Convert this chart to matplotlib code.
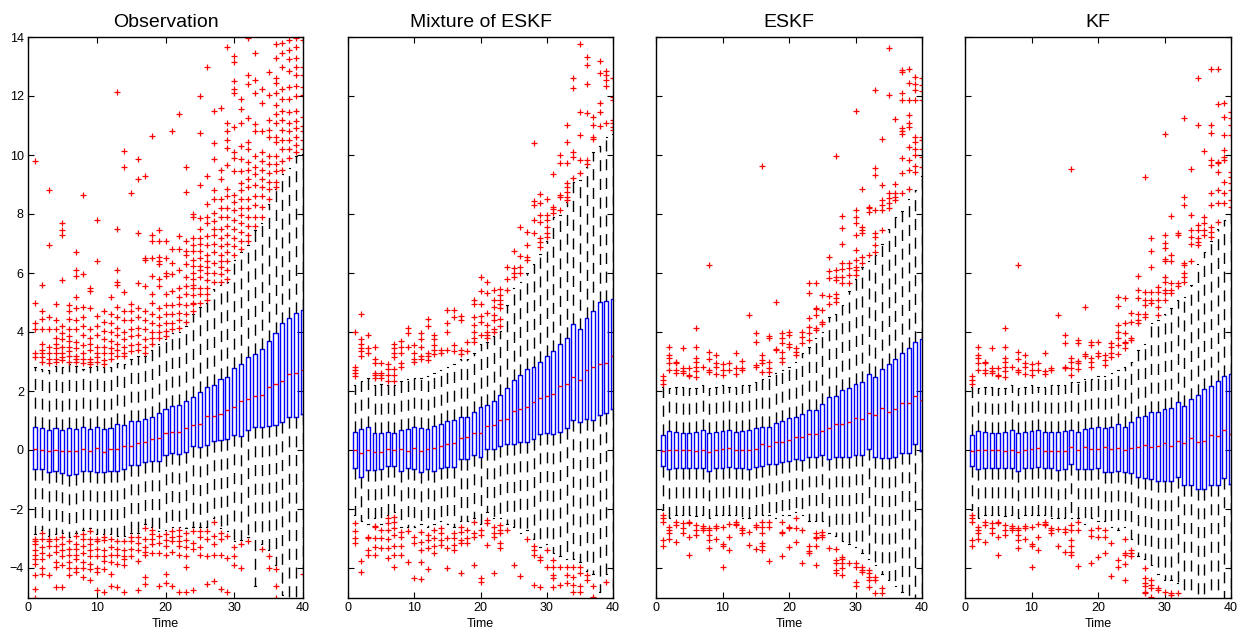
import numpy as np
import matplotlib
matplotlib.use('agg')
import matplotlib.pyplot as plt

plt.rcParams['font.family'] = ['Liberation Sans', 'DejaVu Sans']

time = list(range(1, 41))
titles = ['Observation', 'Mixture of ESKF', 'ESKF', 'KF']

# ---------------- Observation ----------------
obs_q1 = [-0.65,-0.65,-0.73,-0.71,-0.77,-0.85,-0.80,-0.71,-0.71,-0.73,-0.76,-0.71,-0.71,-0.65,-0.52,-0.52,-0.42,-0.38,-0.36,-0.18,
          -0.11,-0.15,-0.06,0.14,0.11,0.18,0.30,0.34,0.37,0.50,0.49,0.67,0.79,0.79,0.81,0.86,0.95,1.11,1.13,1.22]
obs_med = [0.05,0.00,-0.04,0.00,-0.04,-0.04,-0.03,0.05,-0.02,0.07,-0.06,0.03,0.03,0.12,0.15,0.23,0.27,0.36,0.39,0.56,
           0.62,0.62,0.73,0.85,0.87,1.14,1.14,1.23,1.36,1.47,1.66,1.74,1.82,1.85,2.12,2.24,2.34,2.58,2.60,2.71]
obs_q3 = [0.79,0.76,0.68,0.76,0.68,0.73,0.71,0.77,0.70,0.78,0.71,0.76,0.87,0.85,1.00,0.99,1.06,1.13,1.25,1.40,
          1.50,1.51,1.66,1.81,1.97,2.12,2.19,2.39,2.46,2.77,2.93,3.14,3.24,3.41,3.70,3.95,4.32,4.46,4.66,4.74]
obs_lo = [-2.85,-2.70,-2.90,-2.85,-2.80,-2.95,-2.80,-2.70,-2.65,-2.85,-2.85,-2.85,-2.90,-2.90,-2.80,-2.80,-2.50,-2.60,-2.75,-2.70,
          -2.60,-2.60,-2.65,-2.60,-2.60,-2.60,-2.30,-2.65,-2.75,-3.10,-3.05,-2.95,-4.60,-3.20,-3.40,-3.90,-4.90,-5.20,-5.30,-4.00]
obs_hi = [2.80,2.75,2.70,2.85,2.80,2.90,2.85,2.75,2.80,2.85,2.80,2.80,2.95,2.90,3.10,3.20,3.20,3.40,3.60,3.75,
          3.95,4.00,4.20,4.60,4.85,5.00,5.45,5.60,5.70,6.45,6.70,6.95,7.45,7.70,8.35,8.85,9.35,9.55,9.95,10.05]
obs_out = [
    [9.8,5.0,4.3,4.1,3.3,3.15,-3.0,-3.1,-3.2,-3.4,-3.55,-3.7,-3.85,-4.25,-4.7,-5.0],
    [5.6,4.7,4.45,4.1,3.6,3.4,3.3,3.15,3.0,-2.8,-3.0,-3.3,-3.5,-3.7,-4.0,-4.2],
    [8.8,6.95,4.5,4.1,3.5,3.3,3.1,2.95,-3.0,-3.1,-3.25,-3.55,-4.25],
    [4.95,4.4,4.1,3.8,3.6,3.45,3.3,3.1,3.0,-3.0,-3.25,-3.45,-3.8,-3.95,-4.65],
    [7.7,7.45,7.3,5.75,4.2,3.95,3.75,3.5,3.3,3.15,3.05,-2.95,-3.2,-3.4,-3.6,-3.9,-4.65],
    [4.9,4.7,4.45,4.1,3.85,3.7,3.5,3.35,3.2,3.0,-3.1,-3.35,-3.55,-3.8,-4.0,-4.25],
    [6.7,6.1,5.9,5.2,4.8,4.4,4.1,3.65,3.45,3.2,3.1,3.0,-2.9,-3.2,-3.35,-3.55,-3.7,-4.0,-4.15],
    [8.65,5.95,4.85,4.5,4.2,3.9,3.55,3.3,3.1,2.95,-2.85,-3.0,-3.25,-3.5,-3.8,-4.0,-4.3],
    [5.5,5.4,4.8,4.1,3.8,3.6,3.4,3.1,3.0,2.9,-2.75,-3.0,-3.2,-3.4,-3.6,-3.85,-4.05,-4.4],
    [7.8,6.4,4.55,4.2,3.9,3.5,3.3,3.15,3.0,-3.0,-3.1,-3.35,-3.6,-4.0,-4.15,-4.75],
    [4.7,4.35,4.05,3.75,3.5,3.3,3.05,2.9,-2.95,-3.05,-3.4,-3.6,-3.75,-4.05,-4.8],
    [5.2,4.6,4.3,4.0,3.7,3.45,3.3,3.1,-3.0,-3.3,-3.55,-3.8,-4.2,-4.6],
    [12.15,7.5,6.1,5.7,5.6,4.85,4.5,4.15,3.9,3.6,3.4,3.2,-3.1,-3.35,-3.55,-3.85,-4.65],
    [10.15,9.6,5.35,4.7,4.4,4.0,3.75,3.5,3.3,3.2,-3.1,-3.4,-3.6,-3.7,-3.9,-4.8],
    [8.7,4.95,4.7,4.4,4.1,3.85,3.55,3.35,-2.95,-3.1,-3.35,-3.6],
    [9.85,9.2,7.35,5.65,4.8,4.5,4.15,3.9,3.6,3.4,-2.95,-3.15,-3.4,-3.75,-4.75],
    [9.3,6.5,6.45,5.55,4.7,4.4,4.1,3.75,3.5,3.3,-2.65,-3.0,-3.3,-3.45,-3.55,-4.3,-4.55],
    [10.65,7.3,7.1,6.5,5.9,5.3,5.0,4.6,4.3,4.0,3.8,3.6,-2.7,-2.85,-3.0,-3.2,-3.5],
    [7.45,7.1,6.55,6.4,6.3,5.8,5.55,4.8,4.5,4.25,4.0,3.8,-2.9,-3.15,-3.5,-4.6],
    [7.1,6.5,6.0,5.9,5.3,4.9,4.6,4.3,4.05,3.85,-2.85,-3.05,-3.25,-3.55,-4.2,-4.5],
    [10.8,6.8,6.35,5.95,5.4,4.9,4.6,4.3,4.1,-2.75,-2.95,-3.1,-3.45,-4.6],
    [11.4,7.25,6.8,6.1,5.5,5.2,4.95,4.65,4.4,4.15,-2.7,-2.9,-3.1,-3.25,-3.55,-4.8],
    [9.6,8.75,7.1,6.75,6.6,6.3,5.85,5.55,5.3,4.9,4.6,4.35,-2.8,-3.05,-3.3,-3.6,-3.95,-4.8],
    [8.0,7.9,7.2,6.95,6.75,6.45,6.25,6.0,5.8,5.6,5.5,5.25,5.0,4.95,4.7,-2.75,-3.15,-3.35,-4.75],
    [12.0,10.75,9.0,7.85,7.5,7.2,7.0,6.75,6.5,6.25,6.1,5.85,5.5,5.3,5.0,-2.75,-2.95,-3.3,-3.55],
    [13.0,9.3,8.35,7.9,7.7,7.25,6.95,6.6,6.4,6.2,6.0,5.75,5.5,5.3,5.1,-2.75,-3.0,-3.6,-4.55],
    [11.5,10.4,9.85,8.8,8.5,8.05,7.75,7.5,7.3,7.0,6.7,6.35,6.0,5.7,-2.45,-2.9,-3.2,-3.55,-4.45],
    [11.6,9.5,9.2,8.5,8.2,7.9,7.5,7.2,6.9,6.6,6.4,6.2,5.95,5.7,-2.8,-3.0,-3.55,-4.7],
    [13.65,11.1,10.8,10.5,10.25,9.65,8.85,8.6,8.2,7.9,7.6,7.3,7.0,6.7,6.4,6.1,5.8,-2.9,-3.65,-4.8],
    [13.35,13.15,12.5,12.25,12.1,10.95,10.1,9.9,9.45,8.65,8.4,8.15,7.8,7.5,7.2,6.9,6.6,-3.3,-3.6,-3.9],
    [11.9,11.55,11.1,10.3,9.85,9.45,9.05,8.8,8.5,8.2,7.95,7.7,7.4,7.1,6.8,-3.2,-4.0],
    [13.95,12.7,12.4,11.25,10.45,10.2,9.75,9.5,9.2,8.9,8.5,8.2,7.9,7.6,7.3,7.1,-3.1],
    [13.45,12.55,12.1,11.05,10.8,9.95,9.6,9.35,9.0,8.6,8.3,7.9,7.6],
    [12.25,11.75,10.8,10.1,9.8,9.5,9.2,8.9,8.6,8.25,7.9,-3.35],
    [12.8,12.05,11.2,10.85,10.6,9.95,9.7,9.4,9.1,8.85,8.5,-3.6,-4.0],
    [13.75,13.3,12.6,12.45,12.1,11.7,11.4,11.1,10.6,10.45,9.95,9.7,9.45,9.1,8.9,-4.05,-4.6,-5.0],
    [13.8,13.45,13.0,12.25,11.9,11.5,11.2,10.85,10.5,10.2,9.8,9.5],
    [13.9,13.55,13.25,12.85,12.3,11.9,11.45,11.1,10.8,10.5,10.2,9.9],
    [13.95,13.65,13.3,13.0,12.7,12.35,12.0,11.5,11.15,10.9,10.6,10.35,10.1],
    [13.9,13.0,12.7,12.3,12.05,11.3,11.0,10.8,10.5,10.2,-4.2],
]

# ---------------- Mixture of ESKF ----------------
mix_q1 = [-0.60,-0.90,-0.69,-0.69,-0.64,-0.54,-0.54,-0.71,-0.62,-0.66,-0.76,-0.66,-0.71,-0.62,-0.56,-0.56,-0.32,-0.32,-0.18,-0.23,
          0.05,0.02,0.14,0.19,0.19,0.28,0.28,0.37,0.53,0.59,0.53,0.60,0.73,1.01,0.95,1.04,1.02,1.17,1.27,1.38]
mix_med = [0.00,-0.10,0.00,-0.06,-0.06,0.03,0.00,0.02,-0.02,0.07,-0.03,0.03,0.07,0.12,0.19,0.25,0.41,0.44,0.59,0.59,
           0.80,0.85,1.01,1.06,1.32,1.40,1.45,1.63,1.76,1.84,1.89,2.17,2.25,2.48,2.38,2.71,2.82,2.91,2.94,3.19]
mix_q3 = [0.60,0.71,0.77,0.56,0.56,0.60,0.58,0.68,0.71,0.79,0.73,0.71,0.81,0.88,0.97,1.02,1.13,1.13,1.29,1.45,
          1.51,1.65,1.88,2.09,2.37,2.53,2.73,2.80,3.00,3.19,3.36,3.59,3.78,4.26,4.09,4.46,4.71,5.02,5.05,5.12]
mix_lo = [-2.20,-2.40,-2.50,-2.30,-2.50,-2.20,-2.10,-2.60,-2.60,-2.60,-2.50,-2.60,-2.50,-2.40,-2.50,-2.60,-2.40,-2.40,-2.30,-2.50,
          -2.10,-2.30,-2.30,-2.50,-2.60,-2.80,-2.70,-3.00,-3.30,-3.20,-3.50,-3.60,-3.70,-3.70,-3.80,-4.10,-4.20,-4.80,-4.20,-5.20]
mix_hi = [2.20,2.35,2.45,2.20,2.25,2.20,2.20,2.35,2.40,2.45,2.45,2.50,2.60,2.70,2.80,2.90,3.10,3.10,3.30,3.60,
          3.65,3.85,4.05,4.90,5.50,5.70,6.00,6.30,6.65,7.10,7.90,7.95,8.40,9.10,9.15,9.60,10.10,10.30,10.60,10.70]
mix_out = [
    [4.0,2.8,2.7,2.6,2.5,-2.48,-2.74,-2.97,-3.14],
    [4.6,3.75,3.6,3.45,3.35,3.2,-3.76,-4.15],
    [3.9,3.45,3.3,-2.96,-2.99,-3.39,-3.56],
    [3.5,3.1,2.95,2.6,2.55,2.45,-2.58,-2.6,-2.97,-3.28,-3.56],
    [2.95,2.6,2.55,2.45,-2.71,-2.99,-3.33],
    [2.9,2.75,2.55,2.35,-2.32,-2.49,-2.71,-3.03,-3.33,-3.67],
    [3.6,3.45,3.3,3.15,2.75,2.55,2.35,-2.26,-2.43,-2.65,-2.88,-3.25,-3.56,-3.95],
    [3.7,3.5,3.3,2.95,2.8,-2.77,-2.94,-3.27,-3.56],
    [4.15,3.95,3.5,-2.75,-3.79],
    [3.55,3.3,3.1,3.0,-2.94,-3.16,-4.33],
    [3.95,3.75,3.5,3.2,3.1,-2.77,-3.11,-3.39,-3.79,-4.38],
    [4.45,4.2,3.3,3.2,3.05,-2.88,-3.05,-3.33,-4.05],
    [3.9,3.75,3.55,3.4,3.25,-2.71,-2.99,-3.27,-3.5],
    [3.4,3.3,-2.65,-2.8,-3.05,-3.22],
    [4.75,4.3,4.0,3.4,-2.99,-3.33,-4.01],
    [4.75,4.5,3.55,3.35,-2.82,-2.99,-3.22,-3.39],
    [4.55,4.4,3.4,3.25,-2.6,-2.77,-3.05,-3.16,-4.16],
    [3.65,3.35,-2.71,-2.99,-3.16],
    [5.08,4.95,4.5,4.25,4.0,3.8,3.65,-2.43,-2.82,-2.94,-3.9],
    [5.85,5.4,4.96,4.55,4.35,3.9,-2.71,-2.88,-4.35,-4.46],
    [5.7,5.31,4.63,4.25,4.0,3.9,3.8,-2.37,-2.49,-3.22],
    [5.42,5.1,4.86,4.58,4.4,4.1,4.0,-2.6,-2.82,-2.94,-4.18],
    [5.45,5.25,5.08,4.95,4.8,4.45,4.2,-2.54,-2.71,-2.82,-3.16,-3.33],
    [6.2,5.78,5.42,-2.71],
    [6.75,6.16,5.99,5.85,-3.9],
    [7.57,6.57,6.21,5.99,-4.27],
    [7.4,6.95,6.55,6.44,-3.02],
    [10.4,8.44,8.31,7.79,7.34,-3.27,-3.39,-3.56,-4.58],
    [8.67,8.36,7.97,7.74,7.17,7.06,6.89,-3.62,-3.73,-4.63],
    [8.5,7.97,7.8,7.57,7.34,7.21,-3.39,-3.95],
    [9.36,8.25,8.16,8.02,-3.73,-3.95,-4.24,-4.35,-4.63],
    [10.0,9.74,8.64,8.59,8.14,-3.95,-4.58],
    [11.02,10.45,9.72,9.06,8.9,8.76,8.59,8.47,-3.95,-4.24,-4.5],
    [12.6,12.26,10.11,9.94,9.21,-3.95,-4.29,-4.58,-4.8],
    [13.75,11.47,10.68,9.83,9.38,-3.95,-4.18,-4.61,-4.8],
    [13.33,13.05,12.41,11.41,9.83,9.69,-4.24,-4.41],
    [11.28,11.02,10.62,10.53,-4.6,-4.97],
    [13.19,12.79,11.77,11.46,10.98],
    [12.86,12.71,12.54,12.34,11.1,-4.46],
    [12.62,11.98,11.86,11.19,11.07,10.96,10.85],
]

# ---------------- ESKF ----------------
eskf_q1 = [-0.54,-0.64,-0.62,-0.62,-0.60,-0.62,-0.62,-0.70,-0.62,-0.60,-0.59,-0.60,-0.62,-0.64,-0.56,-0.53,-0.47,-0.47,-0.40,-0.37,
           -0.32,-0.33,-0.23,-0.23,-0.18,-0.31,-0.23,-0.24,-0.25,-0.18,-0.17,0.02,-0.23,-0.26,-0.28,-0.25,-0.09,-0.09,0.19,-0.02]
eskf_med = [-0.02,0.01,0.01,-0.01,-0.01,-0.02,0.01,-0.08,-0.01,0.03,0.06,-0.01,-0.01,-0.01,0.05,0.19,0.15,0.26,0.27,0.33,
            0.45,0.45,0.53,0.54,0.63,0.75,0.87,0.88,0.94,1.10,1.06,1.24,1.20,1.41,1.30,1.38,1.58,1.60,1.83,1.69]
eskf_q3 = [0.51,0.64,0.61,0.59,0.56,0.62,0.67,0.56,0.62,0.63,0.68,0.60,0.66,0.67,0.73,0.78,0.78,0.93,0.98,1.10,
           1.12,1.21,1.36,1.36,1.55,1.79,1.83,2.03,2.09,2.24,2.31,2.56,2.46,2.73,2.91,3.10,3.28,3.46,3.65,3.75]
eskf_lo = [-2.05,-2.30,-2.20,-2.20,-2.20,-2.25,-2.20,-2.30,-2.20,-2.20,-2.20,-2.20,-2.30,-2.30,-2.20,-2.20,-2.20,-2.30,-2.20,-2.20,
           -2.10,-2.20,-2.40,-2.40,-2.40,-2.80,-2.90,-3.10,-3.20,-3.30,-3.50,-3.70,-3.90,-4.20,-4.40,-4.60,-4.80,-5.20,-5.20,-5.20]
eskf_hi = [2.15,2.10,2.15,2.15,2.10,2.10,2.20,2.10,2.15,2.20,2.15,2.15,2.20,2.20,2.30,2.40,2.50,2.60,2.70,2.80,
           3.00,3.30,3.50,3.80,4.00,4.50,4.60,4.90,5.40,5.80,6.20,6.40,6.60,7.00,7.50,7.90,8.10,8.50,8.80,9.30]
eskf_out = [
    [2.5,2.37,2.25,-2.2,-2.32,-2.43,-3.05,-3.27],
    [3.48,3.22,3.11,2.94,2.71,-2.6,-2.71,-2.82,-3.03],
    [3.0,2.94,2.71,2.6,-2.43,-2.54,-3.11],
    [3.47,2.77,2.69,2.6,-2.49,-2.65,-2.82],
    [2.77,2.54,2.51,-2.43,-2.49,-2.94,-3.56],
    [4.12,3.5,3.11,3.0,2.82,2.68,2.48,-2.54,-2.71,-2.88],
    [2.82,-2.56,-2.65,-2.71],
    [6.26,3.33,3.07,2.71,2.66,-2.65,-2.71,-2.88,-3.05,-3.33],
    [3.22,2.94,2.82,2.58,-2.58,-2.65,-3.03],
    [2.92,2.71,2.54,-2.6,-3.2,-3.25,-3.95],
    [2.94,2.71,-2.51,-2.94,-3.39],
    [3.28,2.77,2.58,-2.43,-2.51,-2.54],
    [3.02,2.77,2.71,-2.65,-2.71,-2.82],
    [4.58,-2.77,-3.22],
    [3.95,3.67,2.88,2.82,-2.54,-2.6,-3.37],
    [9.64,3.22,3.05,2.94,2.66,-2.43,-2.62,-2.82,-3.16,-3.27,-3.39],
    [3.86,3.79,3.0,2.77,2.66,-2.43,-2.6,-3.75],
    [5.03,3.44,3.39],
    [3.95,3.79,3.62,3.33,3.11,3.0,-2.43,-2.77,-2.82,-3.59],
    [4.01,3.9,3.59,3.5,-2.6,-2.65,-3.3],
    [3.45,3.33,3.22,-2.32,-2.63,-3.11],
    [4.01,3.84,3.62,-2.71,-3.84],
    [5.65,5.33,4.46,4.18,3.95,3.73,-3.25,-3.41,-3.5],
    [5.65,4.8,4.77,4.58,4.12,4.07,-2.82,-2.94,-2.99,-3.27,-3.9],
    [5.24,4.75,4.35,4.27,-2.77,-2.88,-2.96],
    [6.53,6.08,5.82,5.22,4.95,-3.33],
    [9.97,6.1,5.85,5.76,5.29,5.14,5.03,-3.37,-3.73,-3.84,-4.07,-4.18],
    [7.93,7.51,6.97,6.33,6.12,5.85,5.67,-3.64,-3.7,-3.84,-4.01,-4.24],
    [6.35,6.16,5.92,5.65,-3.84],
    [11.48,8.15,7.91,7.68,7.29,6.78,6.44,6.21,6.1,5.93,-3.84,-3.95,-4.46,-4.61],
    [8.84,7.57,7.46,7.34,6.55,6.33,-3.95,-4.07,-4.12],
    [8.25,8.19,8.08,6.61,-4.07,-4.18,-4.29,-4.41,-4.63],
    [12.21,9.55,9.32,8.14,7.34,7.23,6.95,6.72,-4.29,-4.41,-4.86],
    [10.53,8.98,8.47,8.31,8.14,7.46,-4.69,-4.86],
    [13.64,12.05,8.7,8.53,8.36,8.19],
    [11.23,9.01,8.7,8.56,8.47],
    [12.88,12.82,12.09,11.88,10.93,10.81,10.7,9.89,9.4,8.72],
    [12.9,12.45,11.86,11.36,11.07,10.96,10.28,9.83,9.49,8.84],
    [12.63,12.4,12.2,11.86,10.62,10.45,10.22,10.0,9.63,9.43],
    [12.6,12.37,12.18,11.86,10.62,10.51,10.22,9.94,9.6],
]

# ---------------- KF ----------------
kf_q1 = [-0.54,-0.64,-0.62,-0.62,-0.60,-0.62,-0.62,-0.70,-0.62,-0.60,-0.59,-0.62,-0.62,-0.69,-0.66,-0.47,-0.66,-0.66,-0.64,-0.62,
         -0.73,-0.76,-0.71,-0.76,-0.79,-0.93,-0.94,-0.98,-1.05,-1.04,-1.04,-0.90,-1.19,-1.19,-1.32,-1.32,-1.19,-1.19,-0.96,-1.16]
kf_med = [-0.02,0.01,0.01,-0.01,-0.01,-0.02,0.01,-0.08,-0.01,0.03,0.06,-0.03,-0.04,-0.04,-0.04,0.10,-0.01,0.09,0.04,0.03,
          0.10,0.05,0.07,-0.01,0.06,0.09,0.16,0.11,0.14,0.25,0.15,0.32,0.23,0.42,0.26,0.29,0.50,0.47,0.69,0.53]
kf_q3 = [0.51,0.64,0.61,0.59,0.56,0.62,0.67,0.56,0.62,0.63,0.68,0.60,0.62,0.61,0.64,0.67,0.62,0.72,0.74,0.78,
         0.76,0.79,0.87,0.79,0.96,1.13,1.15,1.28,1.28,1.38,1.41,1.62,1.49,1.73,1.88,2.06,2.18,2.35,2.52,2.58]
kf_lo = [-2.05,-2.30,-2.20,-2.20,-2.20,-2.25,-2.20,-2.30,-2.20,-2.20,-2.20,-2.20,-2.30,-2.30,-2.30,-2.30,-2.30,-2.50,-2.30,-2.40,
         -2.40,-2.60,-2.70,-2.60,-3.00,-3.60,-3.70,-3.90,-4.20,-4.40,-4.40,-4.50,-5.30,-5.30,-5.50,-5.50,-5.50,-5.50,-5.30,-5.50]
kf_hi = [2.15,2.10,2.15,2.15,2.10,2.10,2.20,2.10,2.15,2.20,2.15,2.15,2.20,2.20,2.20,2.30,2.30,2.40,2.40,2.50,
         2.50,2.60,2.70,2.80,3.00,3.40,3.60,4.30,4.40,4.60,4.80,5.10,5.20,5.60,6.30,6.70,7.10,7.50,7.80,8.00]
kf_out = [
    [2.5,2.37,2.25,-2.2,-2.32,-2.43,-3.05,-3.27],
    [3.48,3.22,3.11,2.94,2.71,-2.6,-2.71,-2.82,-3.03],
    [3.0,2.94,2.71,2.6,-2.43,-2.54,-3.11],
    [3.47,2.77,2.69,2.6,-2.49,-2.65,-2.82],
    [2.77,2.54,2.51,-2.43,-2.49,-2.94,-3.56],
    [4.12,3.5,3.11,3.0,2.82,2.68,2.48,-2.54,-2.71,-2.88],
    [2.82,-2.56,-2.65,-2.71],
    [6.26,3.33,3.07,2.71,2.66,-2.65,-2.71,-2.88,-3.05,-3.33],
    [3.22,2.94,2.82,2.58,-2.58,-2.65,-3.03],
    [2.92,2.71,2.54,-2.6,-3.2,-3.25,-3.95],
    [2.94,2.71,-2.51,-2.94,-3.39],
    [3.28,2.69,2.58,-2.43,-2.51,-2.54],
    [2.77,2.71,-2.65,-2.71,-2.82],
    [4.56,-2.68,-3.25],
    [3.9,3.62,2.82,2.77,-2.68,-2.77,-3.45],
    [9.52,3.11,3.0,2.77,2.54,-2.54,-2.71,-3.05,-3.27,-3.45,-3.56],
    [3.73,3.62,3.02,2.94,2.74,-2.43,-2.71,-3.93],
    [4.84,3.25,3.18],
    [3.67,3.56,3.11,3.0,2.82,-2.71,-2.91,-3.84],
    [3.67,3.28,3.18,-2.65,-2.96,-3.64],
    [3.22,3.05,2.88,-2.71,-2.94,-3.5],
    [3.62,3.5,3.28,3.16,-3.16,-4.27],
    [5.19,4.88,4.24,3.99,3.79,3.56,3.24,-3.73,-3.95],
    [5.16,4.29,3.95,3.67,3.62,3.45,-3.03,-3.5,-3.56,-3.88,-4.41],
    [4.65,4.35,3.79,3.73,-3.39,-3.5,-3.59],
    [5.89,5.42,5.16,4.6,4.41,4.29],
    [9.24,5.37,5.08,4.91,4.61,4.52,-4.01,-4.35,-4.52,-4.6,-4.8,-4.86],
    [7.17,6.75,6.21,5.37,5.08,4.97,-4.41,-4.58,-4.69,-4.97],
    [5.54,5.34,5.08,4.86,4.58,-4.69,-4.75],
    [10.7,7.29,7.03,6.84,6.47,6.41,5.85,5.71,5.42,5.33,5.08,-4.8],
    [7.93,6.61,6.42,5.65,5.42,5.31,-4.86,-4.92],
    [7.34,7.29,5.65,5.56,-4.86],
    [11.24,8.56,8.31,6.33,6.27,5.99,5.88,5.71],
    [9.52,7.97,7.46,7.21,7.0,6.42],
    [12.6,11.02,7.63,7.46,7.17,7.06,6.95],
    [10.13,7.91,7.68,7.46,7.29],
    [12.9,11.02,10.73,9.83,9.66,8.72,8.31,7.57,7.4,7.23],
    [12.9,11.73,9.77,9.72,9.43,8.81,8.36,7.74],
    [11.75,11.3,10.68,10.17,9.94,9.83,9.09,8.7,8.36],
    [11.46,11.24,11.02,10.68,9.43,9.26,9.04,8.81,8.47,8.25],
]

panels = [
    (obs_q1, obs_med, obs_q3, obs_lo, obs_hi, obs_out),
    (mix_q1, mix_med, mix_q3, mix_lo, mix_hi, mix_out),
    (eskf_q1, eskf_med, eskf_q3, eskf_lo, eskf_hi, eskf_out),
    (kf_q1, kf_med, kf_q3, kf_lo, kf_hi, kf_out),
]

W, H = 1247, 637
fig = plt.figure(figsize=(W / 100, H / 100), dpi=100)

# axes boxes in pixels: left, right
ax_px = [(28, 303), (348, 613), (656, 922), (965, 1231)]
top_px, bot_px = 37, 597.5

for k, (q1, med, q3, lo, hi, out) in enumerate(panels):
    l, r = ax_px[k]
    ax = fig.add_axes([l / W, 1 - bot_px / H, (r - l) / W, (bot_px - top_px) / H])

    stats = []
    for i in range(len(time)):
        stats.append(dict(med=med[i], q1=q1[i], q3=q3[i],
                          whislo=lo[i], whishi=hi[i], fliers=out[i]))

    ax.bxp(stats, positions=time, widths=0.6, capwidths=0.2,
           showfliers=True, manage_ticks=False,
           boxprops=dict(color='#0000ff', lw=1.0),
           medianprops=dict(color='#ff0000', lw=1.0),
           whiskerprops=dict(color='black', lw=1.0, linestyle=(0, (8, 5.5))),
           capprops=dict(color='black', lw=0.8),
           flierprops=dict(marker='+', markeredgecolor='#ff0000',
                           markersize=5, markeredgewidth=0.9, linestyle='none'))

    ax.set_xlim(0, 40)
    ax.set_ylim(-5, 14)
    ax.set_xticks([0, 10, 20, 30, 40])
    ax.set_yticks(np.arange(-4, 15, 2))
    ax.tick_params(direction='in', top=True, right=True, length=4,
                   width=0.8, labelsize=9, pad=3)
    if k > 0:
        ax.set_yticklabels([])
    for s in ax.spines.values():
        s.set_linewidth(1.0)
    ax.set_title(titles[k], fontsize=14, pad=7)
    ax.set_xlabel('Time', fontsize=9, labelpad=3)

fig.savefig('out.png', dpi=100, facecolor='white')
